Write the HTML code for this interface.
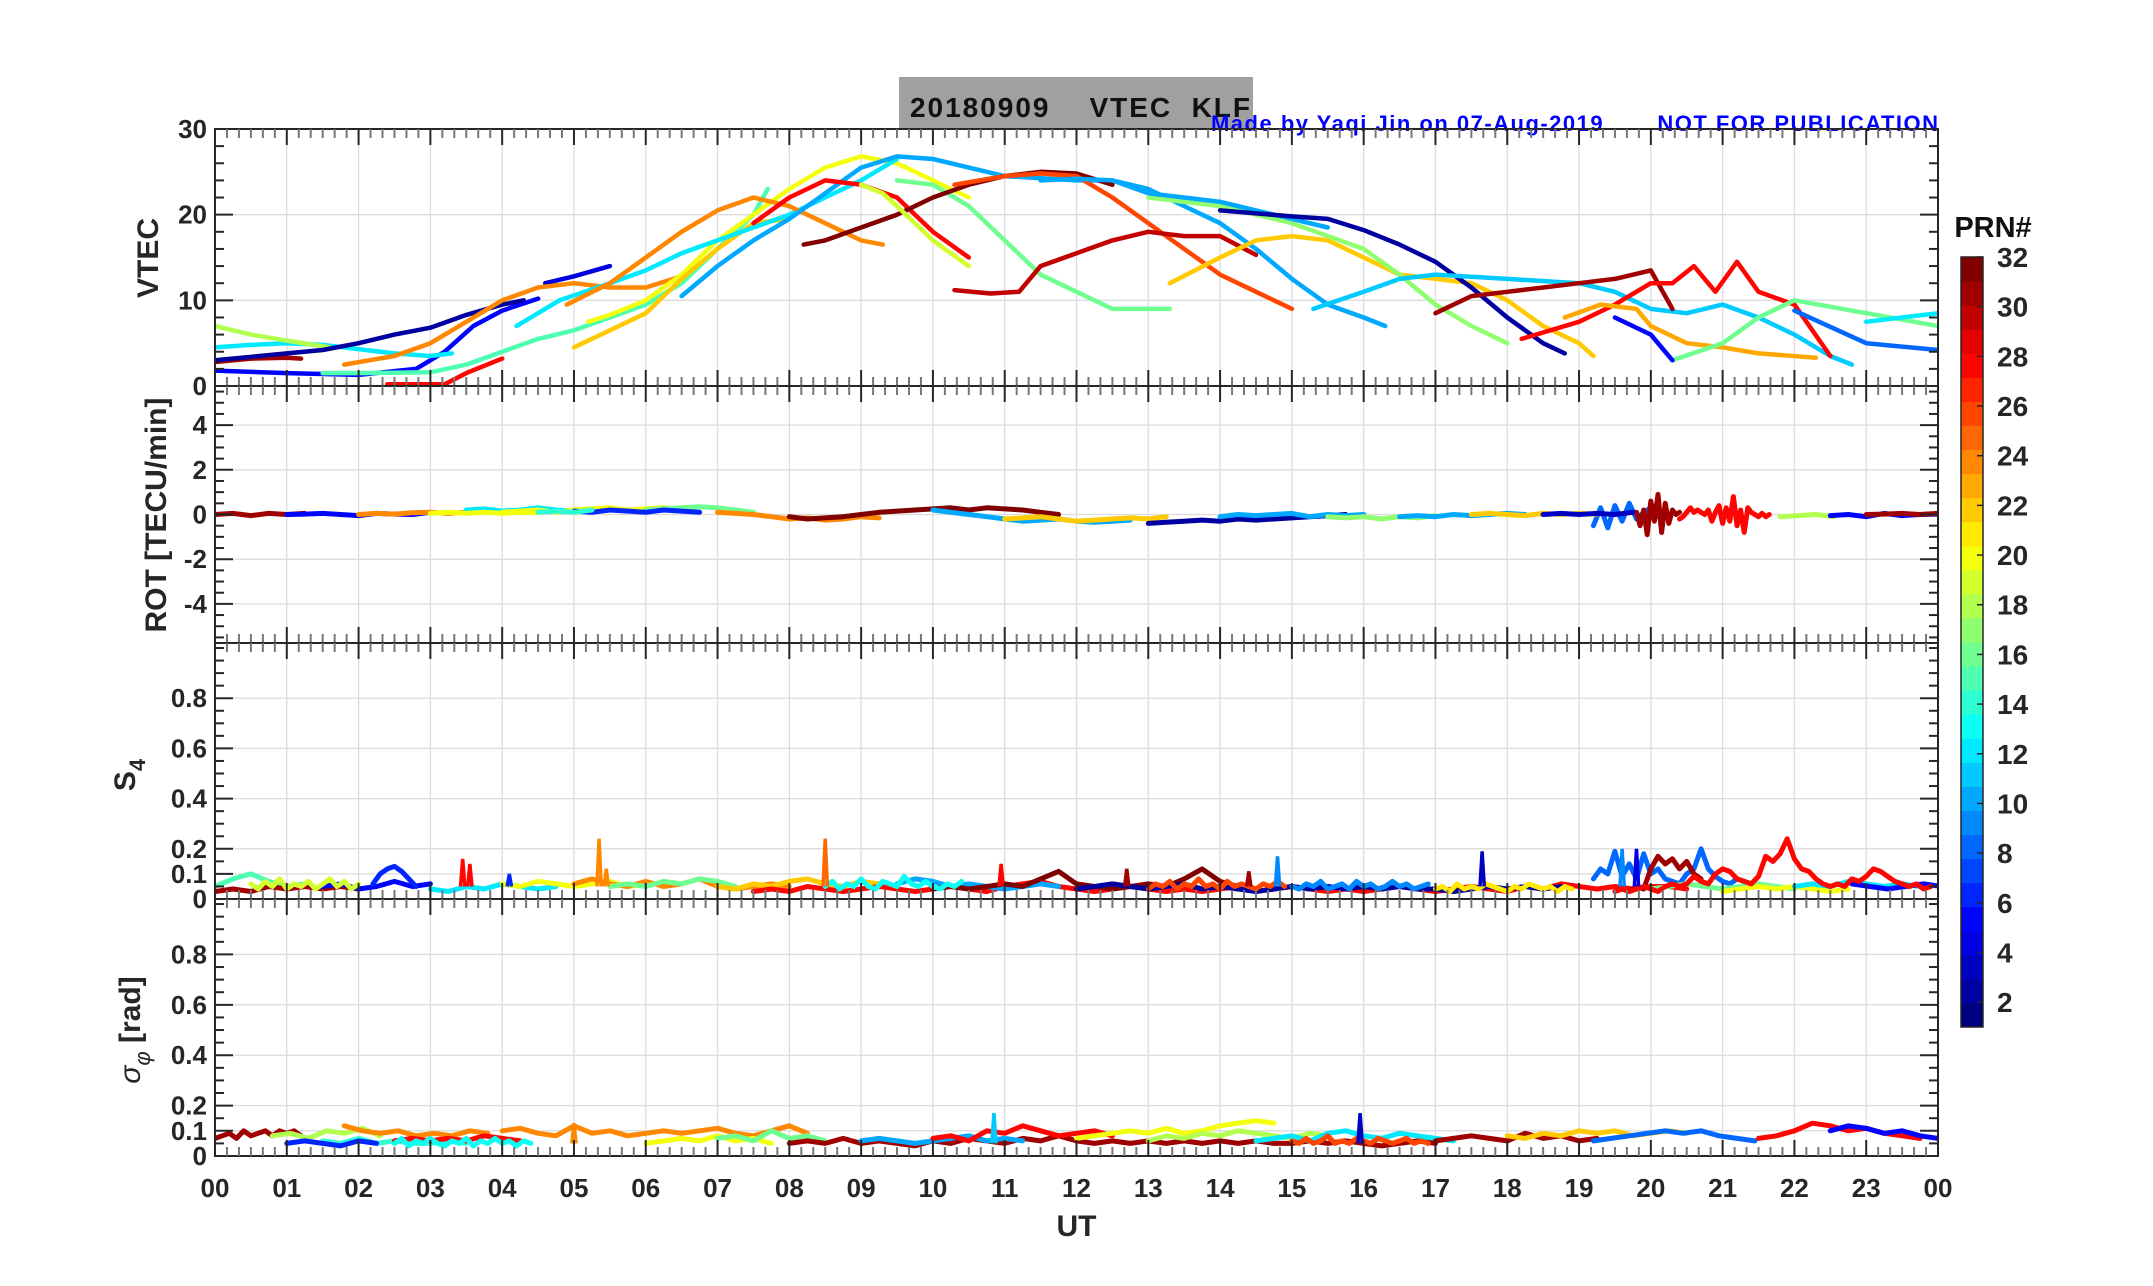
<!DOCTYPE html>
<html><head><meta charset="utf-8"><style>
html,body{margin:0;padding:0;background:#fff;}
svg{display:block;font-family:"Liberation Sans",Arial,sans-serif;}
</style></head><body>
<svg id="fig" width="2153" height="1286" viewBox="0 0 2153 1286" xmlns="http://www.w3.org/2000/svg">
<defs><clipPath id="plotclip"><rect x="215" y="129" width="1723" height="1027"/></clipPath></defs>
<rect x="899" y="77" width="354" height="52" fill="#a0a0a0"/>
<text x="910" y="117" font-size="28" font-weight="bold" fill="#111" textLength="340" xml:space="preserve">20180909    VTEC  KLF</text>
<text x="1211" y="131" font-size="22" font-weight="bold" fill="#0000ff" textLength="727" xml:space="preserve">Made by Yaqi Jin on 07-Aug-2019       NOT FOR PUBLICATION</text>
<g id="grids"></g><g id="series" clip-path="url(#plotclip)"></g><g id="axes"></g><g id="cbar"></g>
</svg>
<script>
// ---------- data ----------
const hourTicks = ["00","01","02","03","04","05","06","07","08","09","10","11","12","13","14","15","16","17","18","19","20","21","22","23","00"];
const vtecTicks = [0,10,20,30];
const rotTicks = [-4,-2,0,2,4];
const s4Ticks = [0,0.1,0.2,0.4,0.6,0.8];
const sigTicks = [0,0.1,0.2,0.4,0.6,0.8];
const cbarTicks = [2,4,6,8,10,12,14,16,18,20,22,24,26,28,30,32];
// VTEC arcs: prn, times (UT hours), values (TECU)
const vtecPrn = [31,5,12,18,2,4,24,28,15,20,22,12,24,10,16,28,32,26,30,22,17,10,2,11,31,28,23,16,5,8,12,19];
const vtecT = [
 [0,0.5,1,1.2],
 [0,1,2,2.8,3.2,3.6,4,4.5],
 [0,0.5,1,1.5,2,2.5,3,3.3],
 [0,0.5,1,1.6],
 [0,1,1.5,2,2.5,3,3.5,4,4.3],
 [4.6,5,5.5],
 [1.8,2.5,3,3.5,4,4.5,5,5.5,6,6.5],
 [2.4,3.2,3.5,4],
 [1.5,2,3,3.5,4,4.5,5,5.5,6,6.5,7,7.5,7.7],
 [5.2,5.5,6,6.5,7,7.5,8,8.5,9,9.5,10,10.5],
 [5,5.5,6,6.5,7,7.5,8],
 [4.2,4.8,5.5,6,6.5,7,7.5,8,8.5,9,9.5],
 [4.9,5.5,6,6.5,7,7.5,8,8.5,9,9.3],
 [6.5,7,7.5,8,8.5,9,9.5,10,10.5,11,12,12.5,13,13.5,14,14.5,15,15.5,16,16.3],
 [9.5,10,10.5,11,11.5,12,12.5,13.3],
 [7.5,8,8.5,9,9.5,10,10.5],
 [8.2,8.5,9,9.5,10,10.5,11,11.5,12,12.5],
 [10.3,11,11.5,12,12.5,13,13.5,14,14.5,15],
 [10.3,10.8,11.2,11.5,12,12.5,13,13.5,14,14.5],
 [13.3,14,14.5,15,15.5,16,16.5,17,17.5,18,18.5,19,19.2],
 [13,14,15,16,16.5,17,17.5,18],
 [11.5,12,12.5,13,13.5,14,14.5,15,15.5],
 [14,15,15.5,16,16.5,17,17.5,18,18.5,18.8],
 [15.3,16,16.5,17,18,19,19.5,20,20.5,21,21.5,22,22.5,22.8],
 [17,17.5,18,18.5,19,19.5,20,20.3],
 [18.2,19,19.5,20,20.3,20.6,20.9,21.2,21.5,22,22.5],
 [18.8,19.3,19.8,20,20.5,21,21.5,22.3],
 [20.3,21,21.5,22,23,24],
 [19.5,20,20.3],
 [22,23,24],
 [23,24],
 [9.0,9.3,9.5,10,10.5]
];
const vtecV = [
 [2.8,3.2,3.3,3.2],
 [1.8,1.5,1.3,2,4,7,8.8,10.2],
 [4.5,4.8,5,4.8,4.3,3.8,3.5,3.8],
 [7,6,5.3,4.5],
 [3,3.8,4.2,5,6,6.8,8.3,9.5,10],
 [12,12.8,14],
 [2.5,3.5,5,7.5,10,11.5,12,11.5,11.5,12.8],
 [0.2,0.2,1.5,3.2],
 [1.5,1.5,1.6,2.5,4,5.5,6.5,8,9.5,12,16,20,23],
 [7.5,8.3,10,13,17,20,23,25.5,26.8,26,24,22],
 [4.5,6.5,8.5,12.5,16,19,19.5],
 [7,10,12,13.5,15.5,17,18.5,20,22,24,26.5],
 [9.5,12,15,18,20.5,22,21,19,17,16.5],
 [10.5,14,17,19.5,22.5,25.5,26.8,26.5,25.5,24.5,24,24,23,21,19,16,12.5,9.5,8,7],
 [24,23.5,21,17,13,11,9,9],
 [19,22,24,23.5,22,18,15],
 [16.5,17,18.5,20,22,23.5,24.5,25,24.8,23.5],
 [23.5,24.5,24.8,24.5,22,19,16,13,11,9],
 [11.2,10.8,11,14,15.5,17,18,17.5,17.5,15.3],
 [12,15,17,17.5,17,15,13,12.5,12,10,7,5,3.5],
 [22,21,19,16,13,9.5,7,5],
 [24,24.2,24,22.5,22,21.5,20.5,19.5,18.5],
 [20.5,19.8,19.5,18.2,16.5,14.5,11.5,8,5,3.8],
 [9,11,12.5,13,12.5,12,11,9,8.5,9.5,8,6,3.5,2.5],
 [8.5,10.5,11,11.5,12,12.5,13.5,9],
 [5.5,7.5,9.5,12,12,14,11,14.5,11,9.5,3.5],
 [8,9.5,9,7,5,4.5,3.8,3.3],
 [3,5,8,10,8.5,7],
 [8,6,3],
 [8.8,5,4.2],
 [7.5,8.5],
 [23.5,22.5,21,17,14]
];
// ROT arcs
const rotPrn = [31,5,24,12,20,16,24,32,10,22,2,8,31,28,10,18,5,31,20,6,17,10,22,14,3];
const rotT0 = [0,1,2,3.5,4,6,7,8,10,11,13,19.2,19.8,20.4,14,21.8,22.5,23,3,5,15.5,16.5,17.5,4.5,18.5];
const rotDt = [0.25,0.25,0.25,0.25,0.25,0.25,0.25,0.25,0.25,0.25,0.25,0.1,0.05,0.05,0.25,0.25,0.25,0.25,0.25,0.25,0.25,0.25,0.25,0.25,0.25];
const rotV = [
 [0,0.05,-0.05,0.05,0,0.05],
 [0,0.02,0.05,0,-0.05,0.05,0.02,0,0.1],
 [0,0.05,0.02,0.08,0.1,0.05,0.1,0.15,0.1],
 [0.2,0.25,0.15,0.2,0.3,0.2,0.15,0.25],
 [0.1,0.15,0.2,0.1,0.2,0.25,0.3,0.2,0.25,0.3,0.2],
 [0.2,0.25,0.3,0.35,0.3,0.2,0.1],
 [0.1,0.05,0,-0.1,-0.2,-0.15,-0.25,-0.2,-0.1,-0.15],
 [-0.1,-0.2,-0.15,-0.1,0,0.1,0.15,0.2,0.25,0.3,0.2,0.3,0.25,0.2,0.1,0],
 [0.2,0.1,0,-0.1,-0.2,-0.3,-0.25,-0.2,-0.3,-0.35,-0.3,-0.25],
 [-0.2,-0.15,-0.1,-0.2,-0.3,-0.25,-0.2,-0.15,-0.2,-0.1],
 [-0.4,-0.35,-0.3,-0.25,-0.3,-0.2,-0.25,-0.2,-0.15,-0.1,-0.05,0],
 [-0.5,0.3,-0.6,0.4,-0.3,0.5,-0.2,0.1,0.3,-0.1],
 [0.1,-0.5,0.2,-0.9,0.6,-0.3,0.9,-0.8,0.5,-0.4,0.2,0,0.1],
 [-0.2,-0.1,0.1,0.3,0.1,0.2,0.1,0,0.2,-0.3,0.1,0.4,-0.4,0.3,-0.3,0.8,-0.5,0.2,-0.8,0.3,0.1,0,-0.1,0.05,-0.1,0],
 [-0.1,0,-0.05,0,0.05,-0.1,0,-0.05,0],
 [-0.1,-0.05,0,-0.1],
 [-0.05,0,-0.1,0.05,-0.05,0,0.02],
 [0,0.02,0.05,0,0.05],
 [0.05,0.1,0.05,0.1,0.05,0.1,0.08],
 [0.15,0.1,0.2,0.15,0.1,0.2,0.15,0.1],
 [-0.1,-0.15,-0.1,-0.2,-0.1,-0.15,-0.05],
 [-0.1,-0.05,-0.1,0,-0.05,0,0.05,0],
 [0,0.05,0,-0.05,0.05,0,0.05,0.02],
 [0.1,0.15,0.1,0.2],
 [0,0.05,0,0.05,0,0.1]
];
// S4 arcs
const s4Prn = [15,31,5,12,20,24,6,16,22,28,10,32,2,8,16,20,12,31,5,19,13,26,9,21];
const s4T0 = [0,0,1.5,3,4,5,2.2,5.5,7,7.5,9.5,10,12,19.2,20,21,22,19.7,22.8,0.5,8.5,13,15,17];
const s4Dt = [0.25,0.25,0.25,0.25,0.25,0.25,0.1,0.25,0.25,0.25,0.25,0.25,0.25,0.1,0.25,0.25,0.25,0.1,0.25,0.1,0.1,0.1,0.1,0.1];
const s4V = [
 [0.05,0.08,0.1,0.07,0.05,0.06],
 [0.03,0.04,0.03,0.05,0.04,0.05,0.04,0.05,0.04],
 [0.05,0.06,0.04,0.05,0.07,0.05,0.06],
 [0.04,0.03,0.05,0.04,0.06,0.05,0.04,0.05],
 [0.06,0.05,0.07,0.06,0.05,0.06,0.07,0.05,0.06],
 [0.06,0.08,0.06,0.05,0.07,0.05,0.06,0.08,0.05,0.04,0.05,0.06,0.05],
 [0.06,0.1,0.12,0.13,0.11,0.08,0.05],
 [0.05,0.06,0.05,0.07,0.06,0.08,0.07,0.05],
 [0.05,0.04,0.06,0.05,0.07,0.08,0.06,0.05,0.07,0.06],
 [0.03,0.04,0.03,0.05,0.04,0.03,0.04,0.05,0.04,0.03,0.04,0.05,0.04,0.03,0.05,0.06,0.07,0.05,0.04,0.03,0.04,0.05,0.04,0.03,0.04,0.03,0.04,0.05,0.03,0.04,0.05,0.04,0.03,0.04,0.03,0.04,0.05,0.04,0.03,0.04,0.05,0.04,0.03,0.05,0.04,0.06,0.05,0.04,0.05,0.04,0.05,0.05,0.04],
 [0.06,0.08,0.07,0.05,0.06,0.05,0.04,0.05,0.06,0.05],
 [0.04,0.05,0.04,0.05,0.06,0.05,0.08,0.11,0.06,0.05,0.04,0.05,0.06,0.05,0.08,0.12,0.07,0.05,0.04],
 [0.04,0.05,0.06,0.05,0.04,0.05,0.06,0.04,0.05,0.04,0.03,0.04,0.05,0.04,0.05,0.04,0.05,0.04,0.05,0.04,0.04,0.03,0.04,0.05,0.04,0.05,0.04,0.05],
 [0.08,0.12,0.1,0.19,0.09,0.14,0.08,0.18,0.1,0.12,0.08,0.07,0.06,0.1,0.12,0.2,0.12,0.09,0.07,0.06,0.08,0.07,0.06,0.05],
 [0.04,0.05,0.06,0.05,0.04,0.05,0.06,0.05,0.04],
 [0.03,0.04,0.05,0.04,0.05,0.04,0.03,0.04],
 [0.05,0.06,0.05,0.07,0.06,0.05,0.06,0.05],
 [0.03,0.05,0.04,0.12,0.17,0.14,0.16,0.12,0.15,0.1,0.08],
 [0.06,0.05,0.04,0.05,0.06,0.05]
 ,[0.06,0.04,0.07,0.05,0.08,0.04,0.06,0.05,0.07,0.04,0.06,0.08,0.05,0.07,0.04,0.06]
 ,[0.05,0.07,0.04,0.06,0.05,0.08,0.05,0.04,0.07,0.06,0.05,0.09,0.06,0.05,0.07,0.05,0.04,0.06,0.05,0.07]
 ,[0.04,0.06,0.05,0.07,0.04,0.06,0.05,0.08,0.05,0.06,0.04,0.07,0.05,0.06,0.05,0.04,0.06,0.05,0.07,0.05]
 ,[0.05,0.04,0.06,0.05,0.07,0.04,0.05,0.06,0.04,0.07,0.05,0.06,0.04,0.05,0.07,0.05,0.06,0.04,0.05,0.06]
 ,[0.04,0.05,0.03,0.06,0.04,0.05,0.04,0.06,0.05,0.04,0.03,0.05,0.04,0.06,0.05,0.04,0.05,0.03,0.05,0.04]
];
const s4RedPrn = 28;
const s4RedT0 = 19.5;
const s4RedDt = 0.1;
const s4RedV = [0.03,0.04,0.03,0.04,0.05,0.04,0.03,0.05,0.06,0.05,0.06,0.09,0.07,0.06,0.1,0.12,0.11,0.08,0.07,0.06,0.09,0.17,0.15,0.18,0.24,0.16,0.12,0.11,0.08,0.06,0.05,0.06,0.05,0.08,0.07,0.09,0.12,0.11,0.09,0.07,0.06,0.05,0.06,0.04,0.05];
// S4 spikes: hour, value, prn
const s4SpikeT = [3.45,3.55,4.1,5.35,5.45,8.5,10.95,14.8,17.65,12.7,14.4,19.6,19.8];
const s4SpikeV = [0.16,0.14,0.1,0.24,0.12,0.24,0.14,0.17,0.19,0.12,0.11,0.2,0.2];
const s4SpikeP = [28,28,6,24,24,25,28,9,3,31,31,9,4];
// sigma-phi arcs
const sigPrn = [31,18,14,24,6,28,24,20,16,31,10,28,20,18,12,31,22,8,28,5,13,26];
const sigT0 = [0,0.8,1.5,1.8,1,2.5,4,6,7,8,9,10,12,13,14.5,17,18,19.2,21.5,22.5,2.5,15];
const sigDt = [0.1,0.25,0.25,0.25,0.25,0.25,0.25,0.25,0.25,0.25,0.25,0.25,0.25,0.25,0.25,0.25,0.25,0.25,0.25,0.25,0.1,0.1];
const sigV = [
 [0.07,0.08,0.09,0.07,0.1,0.08,0.09,0.1,0.08,0.1,0.09,0.1,0.08],
 [0.08,0.09,0.07,0.1,0.09,0.11,0.08],
 [0.06,0.05,0.07,0.05,0.06,0.05,0.05,0.06,0.05],
 [0.12,0.1,0.09,0.1,0.08,0.09,0.08,0.1,0.09],
 [0.05,0.06,0.05,0.04,0.06,0.05],
 [0.06,0.07,0.06,0.07,0.06,0.08,0.07,0.06],
 [0.1,0.11,0.09,0.08,0.12,0.09,0.1,0.08,0.09,0.1,0.09,0.1,0.11,0.09,0.08,0.1,0.12,0.09],
 [0.05,0.06,0.07,0.06,0.08,0.06,0.07,0.05],
 [0.07,0.08,0.06,0.1,0.07,0.08,0.06],
 [0.05,0.06,0.05,0.07,0.05,0.06,0.05,0.04,0.06,0.05,0.07,0.06,0.05,0.07,0.06,0.08,0.06,0.05,0.06,0.05,0.06,0.05,0.06,0.05,0.06,0.05,0.06,0.05,0.05,0.06,0.05,0.06,0.05,0.04,0.05,0.06,0.05],
 [0.06,0.07,0.06,0.05,0.06,0.07,0.08,0.06,0.07,0.06],
 [0.07,0.08,0.06,0.1,0.09,0.12,0.1,0.08,0.09,0.1,0.08],
 [0.07,0.08,0.09,0.1,0.09,0.11,0.09,0.1,0.12,0.13,0.14,0.13],
 [0.06,0.08,0.07,0.09,0.08,0.1,0.09,0.08,0.07,0.09,0.08],
 [0.06,0.07,0.08,0.06,0.09,0.1,0.08,0.07,0.09,0.08,0.07,0.06],
 [0.06,0.07,0.08,0.07,0.06,0.09,0.07,0.08,0.06,0.07],
 [0.08,0.07,0.09,0.08,0.1,0.09,0.1,0.08,0.09,0.1,0.09],
 [0.06,0.07,0.08,0.09,0.1,0.09,0.1,0.08,0.07,0.06],
 [0.07,0.08,0.1,0.13,0.12,0.1,0.11,0.09,0.08,0.07],
 [0.1,0.12,0.11,0.09,0.1,0.08,0.07,0.08,0.09,0.1]
 ,[0.05,0.07,0.04,0.06,0.05,0.07,0.05,0.04,0.06,0.05,0.07,0.04,0.06,0.05,0.07,0.05,0.06,0.04,0.06,0.05]
 ,[0.06,0.05,0.07,0.05,0.06,0.08,0.05,0.06,0.05,0.07,0.06,0.05,0.07,0.06,0.05,0.06,0.07,0.05,0.06,0.05]
];
const sigSpikeT = [10.85,15.95,5.0];
const sigSpikeV = [0.17,0.17,0.13];
const sigSpikeP = [11,3,24];

// ---------- geometry ----------
const NS = "http://www.w3.org/2000/svg";
const X0 = 215, X1 = 1938;
const panels = [
 {top:129, bot:386, min:0, max:30, name:"vtec"},
 {top:386, bot:643, min:-5.75, max:5.75, name:"rot"},
 {top:643, bot:899, min:0, max:1.02, name:"s4"},
 {top:899, bot:1156, min:0, max:1.02, name:"sigma-phi"}
];
function xs(h){ return X0 + h*(X1-X0)/24; }
function ys(p,v){ const P=panels[p]; return P.bot - (v-P.min)/(P.max-P.min)*(P.bot-P.top); }
function jet(prn){
  const t=(prn-1)/31;
  const f=x=>Math.max(0,Math.min(1,x));
  const r=f(1.5-Math.abs(4*t-3)), g=f(1.5-Math.abs(4*t-2)), b=f(1.5-Math.abs(4*t-1));
  return "rgb("+Math.round(r*255)+","+Math.round(g*255)+","+Math.round(b*255)+")";
}
function mk(tag,attrs,parent){ const e=document.createElementNS(NS,tag); for(const k in attrs) e.setAttribute(k,attrs[k]); parent.appendChild(e); return e; }
const G=document.getElementById("grids"), S=document.getElementById("series"), A=document.getElementById("axes"), C=document.getElementById("cbar");

// grids
const pGrid=[vtecTicks,rotTicks,s4Ticks,sigTicks];
panels.forEach((P,pi)=>{
  for(let h=1;h<24;h++){
    const l=mk("line",{x1:xs(h),x2:xs(h),y1:P.top,y2:P.bot,stroke:"#dcdcdc","stroke-width":1.3},G);
    
    
  }
  pGrid[pi].forEach(v=>{
    const y=ys(pi,v); if(y<=P.top+1||y>=P.bot-1) return;
    const l=mk("line",{x1:X0,x2:X1,y1:y,y2:y,stroke:"#dcdcdc","stroke-width":1.3},G);
    
    
  });
});

// series drawing
function poly(pi,ts,vs,prn,w,name){
  let d=""; ts.forEach((t,i)=>{ d+=(i?"L":"M")+xs(t).toFixed(1)+","+ys(pi,vs[i]).toFixed(1); });
  const p=mk("path",{d:d,fill:"none",stroke:jet(prn),"stroke-width":w,"stroke-linejoin":"round","stroke-linecap":"round"},S);
  
  
}
vtecPrn.forEach((prn,i)=>poly(0,vtecT[i],vtecV[i],prn,4.5,"vtec-arc-prn"+prn));
function regular(pi,prns,t0s,dts,vals,w,name){
  prns.forEach((prn,i)=>{ const ts=vals[i].map((v,k)=>t0s[i]+k*dts[i]); poly(pi,ts,vals[i],prn,w,name+"-prn"+prn); });
}
regular(1,rotPrn,rotT0,rotDt,rotV,5,"rot-arc");
regular(2,s4Prn,s4T0,s4Dt,s4V,5,"s4-arc");
poly(2,s4RedV.map((v,k)=>s4RedT0+k*s4RedDt),s4RedV,s4RedPrn,5,"s4-arc-prn28");
regular(3,sigPrn,sigT0,sigDt,sigV,5,"sigma-phi-arc");
function spikes(pi,T,V,P,name){
  T.forEach((t,i)=>{
    const l=mk("path",{d:"M"+xs(t-0.03)+","+ys(pi,0.05)+"L"+xs(t)+","+ys(pi,V[i])+"L"+xs(t+0.03)+","+ys(pi,0.05),fill:"none",stroke:jet(P[i]),"stroke-width":3.5},S);
    
    
  });
}
spikes(2,s4SpikeT,s4SpikeV,s4SpikeP,"s4-spike");
spikes(3,sigSpikeT,sigSpikeV,sigSpikeP,"sigma-phi-spike");

// axes
const minorY=[2,0.5,0.05,0.05];
panels.forEach((P,pi)=>{
  const box=mk("rect",{x:X0,y:P.top,width:X1-X0,height:P.bot-P.top,fill:"none",stroke:"#262626","stroke-width":2},A);
  
  
  for(let m=1;m<144;m++){
    const x=xs(m/6), major=(m%6===0), L=major?16:9;
    const c=major?"#262626":"#777";
    mk("line",{x1:x,x2:x,y1:P.top,y2:P.top+L,stroke:c,"stroke-width":2},A);
    mk("line",{x1:x,x2:x,y1:P.bot,y2:P.bot-L,stroke:c,"stroke-width":2},A);
  }
  const st=minorY[pi];
  for(let v=Math.ceil(P.min/st)*st; v<=P.max+1e-9; v+=st){
    const y=ys(pi,v); if(y<P.top+1||y>P.bot-1) continue;
    const major=pGrid[pi].some(t=>Math.abs(t-v)<1e-6), L=major?18:9;
    mk("line",{x1:X0,x2:X0+L,y1:y,y2:y,stroke:"#262626","stroke-width":2},A);
    mk("line",{x1:X1,x2:X1-L,y1:y,y2:y,stroke:"#262626","stroke-width":2},A);
  }
  pGrid[pi].forEach(v=>{
    const t=mk("text",{x:X0-8,y:ys(pi,v)+9,"font-size":26,"font-weight":"bold",fill:"#262626","text-anchor":"end"},A);
    t.textContent=String(v);
    
    
  });
});
hourTicks.forEach((lab,i)=>{
  const t=mk("text",{x:xs(i),y:1197,"font-size":26,"font-weight":"bold",fill:"#262626","text-anchor":"middle"},A);
  t.textContent=lab;
  
  
});
function ylab(x,y,txt,name,size){
  const t=mk("text",{x:x,y:y,"font-size":size,"font-weight":"bold",fill:"#262626","text-anchor":"middle",transform:"rotate(-90 "+x+" "+y+")"},A);
  t.textContent=txt;
  
  
  return t;
}
ylab(158,258,"VTEC","vtec-y-axis-title",30);
ylab(166,515,"ROT [TECU/min]","rot-y-axis-title",30);
const s4l=ylab(135,775,"S","s4-y-axis-title",30);
const s4s=document.createElementNS(NS,"tspan"); s4s.setAttribute("font-size","22"); s4s.setAttribute("dy","10"); s4s.textContent="4"; s4l.appendChild(s4s);
const sg=ylab(140,1030,"","sigma-phi-y-axis-title",30);
const a1=document.createElementNS(NS,"tspan"); a1.setAttribute("font-style","italic"); a1.setAttribute("font-weight","normal"); a1.textContent="σ"; sg.appendChild(a1);
const a2=document.createElementNS(NS,"tspan"); a2.setAttribute("font-size","22"); a2.setAttribute("font-style","italic"); a2.setAttribute("font-weight","normal"); a2.setAttribute("dy","10"); a2.textContent="φ"; sg.appendChild(a2);
const a3=document.createElementNS(NS,"tspan"); a3.setAttribute("dy","-10"); a3.textContent=" [rad]"; sg.appendChild(a3);
const ut=mk("text",{x:(X0+X1)/2,y:1236,"font-size":30,"font-weight":"bold",fill:"#262626","text-anchor":"middle"},A);
ut.textContent="UT";



// colorbar
const CB={x:1961,w:22,top:257,bot:1027};
for(let k=0;k<32;k++){
  const h=(CB.bot-CB.top)/32;
  const r=mk("rect",{x:CB.x,y:CB.bot-(k+1)*h,width:CB.w,height:h+0.5,fill:jet(1+k)},C);
  
  
}
const cbo=mk("rect",{x:CB.x,y:CB.top,width:CB.w,height:CB.bot-CB.top,fill:"none",stroke:"#262626","stroke-width":1.5},C);


function cy(v){ return CB.bot-(v-1)/31*(CB.bot-CB.top); }
cbarTicks.forEach(v=>{
  mk("line",{x1:CB.x+CB.w-6,x2:CB.x+CB.w,y1:cy(v),y2:cy(v),stroke:"#262626","stroke-width":1.5},C);
  const t=mk("text",{x:CB.x+CB.w+14,y:cy(v)+10,"font-size":28,"font-weight":"bold",fill:"#262626"},C);
  t.textContent=String(v);
  
  
});
const prnT=mk("text",{x:1993,y:237,"font-size":29,"font-weight":"bold",fill:"#111","text-anchor":"middle"},C);
prnT.textContent="PRN#";


</script>
</body></html>
